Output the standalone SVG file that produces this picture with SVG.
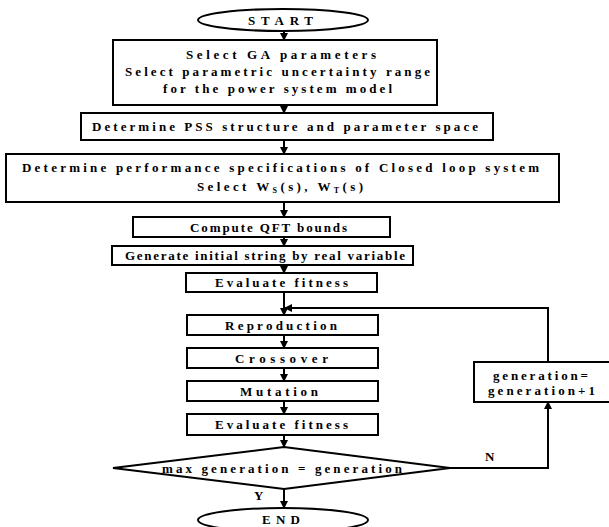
<svg xmlns="http://www.w3.org/2000/svg" width="609" height="527" viewBox="0 0 609 527">
<defs>
<marker id="ah" markerWidth="8" markerHeight="8" refX="7" refY="4" orient="auto" markerUnits="userSpaceOnUse">
<path d="M0,0 L8,4 L0,8 Z" fill="#000"/>
</marker>
<style>
.b{fill:#fff;stroke:#000;stroke-width:2}
.t{font-family:"Liberation Serif","Times New Roman",serif;font-weight:bold;font-size:13px;fill:#000;text-anchor:start}
.c{fill:none;stroke:#000;stroke-width:2}
</style>
</defs>
<rect width="609" height="527" fill="#fff"/>
<g id="start"><ellipse class="b" cx="283" cy="20" rx="85" ry="11"/><text class="t" x="248" y="25" textLength="65" lengthAdjust="spacing">START</text></g>
<g id="n1"><rect class="b" x="113" y="40" width="324" height="65"/>
<text class="t" x="186" y="59" textLength="190" lengthAdjust="spacing">Select GA parameters</text>
<text class="t" x="125" y="76" textLength="305" lengthAdjust="spacing">Select parametric uncertainty range</text>
<text class="t" x="163" y="93" textLength="229" lengthAdjust="spacing">for the power system model</text></g>
<g id="n2"><rect class="b" x="81" y="113" width="412" height="27"/>
<text class="t" x="92" y="131" textLength="386" lengthAdjust="spacing">Determine PSS structure and parameter space</text></g>
<g id="n3"><rect class="b" x="6" y="154" width="553" height="48"/>
<text class="t" x="22" y="172" textLength="517" lengthAdjust="spacing">Determine performance specifications of Closed loop system</text>
<text class="t" x="197" y="191" textLength="166" lengthAdjust="spacing">Select W<tspan font-size="8" dy="2">S</tspan><tspan dy="-2">(s), W</tspan><tspan font-size="8" dy="2">T</tspan><tspan dy="-2">(s)</tspan></text></g>
<g id="n4"><rect class="b" x="133" y="217" width="257" height="20"/>
<text class="t" x="190" y="232" textLength="157" lengthAdjust="spacing">Compute QFT bounds</text></g>
<g id="n5"><rect class="b" x="112" y="246" width="301" height="19"/>
<text class="t" x="125" y="260" textLength="280" lengthAdjust="spacing">Generate initial string by real variable</text></g>
<g id="n6"><rect class="b" x="186" y="273" width="191" height="19"/>
<text class="t" x="215" y="287" textLength="133" lengthAdjust="spacing">Evaluate fitness</text></g>
<g id="n7"><rect class="b" x="187" y="315" width="191" height="20"/>
<text class="t" x="225" y="330" textLength="112" lengthAdjust="spacing">Reproduction</text></g>
<g id="n8"><rect class="b" x="187" y="348" width="191" height="20"/>
<text class="t" x="235" y="363" textLength="93" lengthAdjust="spacing">Crossover</text></g>
<g id="n9"><rect class="b" x="187" y="381" width="191" height="20"/>
<text class="t" x="240" y="396" textLength="78" lengthAdjust="spacing">Mutation</text></g>
<g id="n10"><rect class="b" x="187" y="414" width="191" height="21"/>
<text class="t" x="215" y="429" textLength="133" lengthAdjust="spacing">Evaluate fitness</text></g>
<g id="n11"><polygon class="b" points="113,468 284,447 450,468 284,489"/>
<text class="t" x="162" y="473" textLength="240" lengthAdjust="spacing">max generation = generation</text></g>
<g id="n12"><rect class="b" x="474" y="362" width="140" height="40"/>
<text class="t" x="493" y="380" textLength="95" lengthAdjust="spacing">generation=</text>
<text class="t" x="488" y="395" textLength="107" lengthAdjust="spacing">generation+1</text></g>
<g id="end"><ellipse class="b" cx="283" cy="520" rx="85" ry="12"/><text class="t" x="262" y="524" textLength="38" lengthAdjust="spacing">END</text></g>
<g id="connectors">
<line class="c" x1="284" y1="31" x2="284" y2="40" marker-end="url(#ah)"/>
<line class="c" x1="284" y1="105" x2="284" y2="113" marker-end="url(#ah)"/>
<line class="c" x1="284" y1="140" x2="284" y2="154" marker-end="url(#ah)"/>
<line class="c" x1="284" y1="202" x2="284" y2="217" marker-end="url(#ah)"/>
<line class="c" x1="284" y1="237" x2="284" y2="246" marker-end="url(#ah)"/>
<line class="c" x1="284" y1="265" x2="284" y2="273" marker-end="url(#ah)"/>
<line class="c" x1="284" y1="292" x2="284" y2="315" marker-end="url(#ah)"/>
<line class="c" x1="284" y1="335" x2="284" y2="348" marker-end="url(#ah)"/>
<line class="c" x1="284" y1="368" x2="284" y2="381" marker-end="url(#ah)"/>
<line class="c" x1="284" y1="401" x2="284" y2="414" marker-end="url(#ah)"/>
<line class="c" x1="284" y1="435" x2="284" y2="447" marker-end="url(#ah)"/>
<line class="c" x1="284" y1="489" x2="284" y2="508" marker-end="url(#ah)"/>
<polyline class="c" points="450,468 548,468 548,402" marker-end="url(#ah)"/>
<polyline class="c" points="548,362 548,308 285,308" marker-end="url(#ah)"/>
<text class="t" x="485" y="461">N</text>
<text class="t" x="254" y="500">Y</text>
</g>
</svg>
